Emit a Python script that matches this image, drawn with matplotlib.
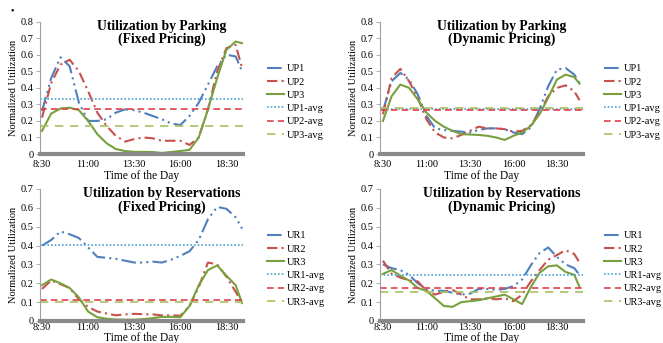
""" utilization charts, parking and reservations, fixed vs dynamic pricing """
import matplotlib
matplotlib.use("Agg")
import matplotlib.pyplot as plt

plt.rcParams['font.family'] = ['Liberation Serif', 'DejaVu Serif']

# hours of the day (left panels and right panels are sampled a little differently)
hours_fixed = [8.5, 9.0, 9.5, 10.0, 10.5, 11.0, 11.5, 12.0, 12.5, 13.0, 13.5, 14.0,
               14.5, 15.0, 15.5, 16.0, 16.5, 17.0, 17.5, 18.0, 18.5, 19.0, 19.35]
hours_dyn = [8.5, 9.0, 9.5, 10.0, 10.5, 11.0, 11.5, 12.0, 12.5, 13.0, 13.5, 14.0,
             14.5, 15.0, 15.5, 16.0, 16.5, 17.0, 17.5, 18.0, 18.5, 19.0, 19.5, 19.8]

# parking, fixed pricing
up1_fixed = [0.26, 0.46, 0.585, 0.53, 0.31, 0.20, 0.20, 0.21, 0.25, 0.27, 0.265, 0.25,
             0.23, 0.21, 0.185, 0.175, 0.23, 0.31, 0.42, 0.53, 0.60, 0.59, 0.50]
up2_fixed = [0.22, 0.43, 0.54, 0.57, 0.50, 0.38, 0.25, 0.17, 0.11, 0.075, 0.09, 0.10,
             0.095, 0.08, 0.08, 0.08, 0.055, 0.10, 0.27, 0.50, 0.64, 0.66, 0.52]
up3_fixed = [0.14, 0.245, 0.275, 0.28, 0.265, 0.20, 0.12, 0.065, 0.03, 0.018, 0.013, 0.013,
             0.012, 0.006, 0.012, 0.018, 0.025, 0.10, 0.27, 0.46, 0.63, 0.68, 0.67]
up_fixed_avg = [0.335, 0.27, 0.17]

# parking, dynamic pricing
up1_dyn = [0.26, 0.44, 0.49, 0.45, 0.36, 0.23, 0.155, 0.145, 0.14, 0.135, 0.13, 0.145,
           0.155, 0.155, 0.15, 0.13, 0.12, 0.16, 0.27, 0.41, 0.51, 0.52, 0.48, 0.43]
up2_dyn = [0.24, 0.46, 0.515, 0.44, 0.34, 0.21, 0.13, 0.10, 0.095, 0.115, 0.14, 0.165,
           0.155, 0.155, 0.15, 0.135, 0.14, 0.175, 0.25, 0.35, 0.40, 0.415, 0.38, 0.325]
up3_dyn = [0.20, 0.35, 0.42, 0.40, 0.33, 0.25, 0.20, 0.165, 0.14, 0.12, 0.118, 0.115,
           0.11, 0.10, 0.085, 0.11, 0.13, 0.17, 0.24, 0.34, 0.45, 0.48, 0.465, 0.425]
up_dyn_avg = [0.272, 0.265, 0.28]

# reservations, fixed pricing
ur1_fixed = [0.40, 0.43, 0.475, 0.46, 0.44, 0.39, 0.34, 0.335, 0.33, 0.32, 0.31, 0.31,
             0.315, 0.31, 0.325, 0.345, 0.37, 0.43, 0.54, 0.605, 0.595, 0.55, 0.49]
ur2_fixed = [0.17, 0.215, 0.195, 0.175, 0.115, 0.075, 0.05, 0.04, 0.03, 0.035, 0.038, 0.036,
             0.035, 0.03, 0.03, 0.028, 0.08, 0.18, 0.31, 0.30, 0.235, 0.155, 0.095]
ur3_fixed = [0.19, 0.22, 0.20, 0.175, 0.125, 0.05, 0.02, 0.012, 0.008, 0.007, 0.007, 0.01,
             0.015, 0.022, 0.022, 0.02, 0.08, 0.19, 0.27, 0.295, 0.24, 0.19, 0.095]
ur_fixed_avg = [0.405, 0.11, 0.10]

# reservations, dynamic pricing
ur1_dyn = [0.30, 0.28, 0.27, 0.245, 0.20, 0.17, 0.16, 0.16, 0.15, 0.14, 0.145, 0.17,
           0.17, 0.165, 0.17, 0.185, 0.22, 0.295, 0.36, 0.39, 0.34, 0.30, 0.28, 0.245]
ur2_dyn = [0.32, 0.25, 0.23, 0.215, 0.21, 0.16, 0.14, 0.155, 0.165, 0.14, 0.115, 0.115,
           0.12, 0.115, 0.12, 0.105, 0.14, 0.21, 0.27, 0.325, 0.35, 0.375, 0.355, 0.31]
ur3_dyn = [0.25, 0.27, 0.24, 0.215, 0.175, 0.16, 0.12, 0.08, 0.075, 0.10, 0.105, 0.11,
           0.12, 0.13, 0.14, 0.115, 0.09, 0.18, 0.255, 0.29, 0.295, 0.26, 0.245, 0.18]
ur_dyn_avg = [0.245, 0.175, 0.155]

tick_hours = [8.5, 11.0, 13.5, 16.0, 18.5]
tick_labels = ['8:30', '11:00', '13:30', '16:00', '18:30']

BLUE = '#4f7fbd'
RED = '#c8504d'
GREEN = '#78a03c'
AVG_BLUE = '#4aa3d0'
AVG_RED = '#e0404a'
AVG_GREEN = '#a8c060'

W, H = 663, 343
fig = plt.figure(figsize=(W / 100, H / 100), dpi=100)


def px_axes(x0, y_top, x1, y_bot):
    """ axes from pixel box """
    return fig.add_axes([x0 / W, 1 - y_bot / H, (x1 - x0) / W, (y_bot - y_top) / H])


def panel(ax, hours, series, avgs, names, title, ymax, xlim, leg_xy, label_pad, xlab_pad):
    styles = [(0, (7, 2, 1, 2, 1, 2)), (0, (5, 2, 1, 2)), '-']
    colors = [BLUE, RED, GREEN]
    for vals, st, col, name in zip(series, styles, colors, names):
        ax.plot(hours, vals, color=col, linestyle=st, lw=1.5, label=name)
    avg_styles = [(0, (1, 1.2)), (0, (4, 2.5)), (0, (5, 4))]
    avg_colors = [AVG_BLUE, AVG_RED, AVG_GREEN]
    for a, st, col, name in zip(avgs, avg_styles, avg_colors, names):
        ax.axhline(a, color=col, linestyle=st, lw=1.2, label=name + '-avg')
    ax.set_xlim(*xlim)
    ax.set_ylim(0, ymax)
    n = int(round(ymax * 10))
    ax.set_yticks([i / 10 for i in range(n + 1)])
    ax.set_yticklabels(['0'] + ['%.1f' % (i / 10) for i in range(1, n + 1)])
    ax.set_xticks(tick_hours)
    ax.set_xticklabels(tick_labels)
    for s in ('top', 'right'):
        ax.spines[s].set_visible(False)
    ax.spines['left'].set_color('#a0a0a0')
    ax.spines['left'].set_linewidth(0.8)
    ax.spines['bottom'].set_color('#8a8a8a')
    ax.spines['bottom'].set_linewidth(3)
    ax.tick_params(axis='y', length=3, width=0.6, color='#a0a0a0', labelsize=7.5, pad=1.5)
    ax.tick_params(axis='x', length=0, labelsize=7.5, pad=label_pad)
    ax.set_xlabel('Time of the Day', fontsize=8.3, labelpad=xlab_pad)
    ax.set_ylabel('Normalized Utilization', fontsize=7.5, labelpad=2)
    ax.text(0.6, 1.015, title, transform=ax.transAxes, ha='center', va='top',
            fontsize=9.8, fontweight='bold', linespacing=1.0)
    ax.legend(loc='upper left', bbox_to_anchor=(leg_xy[0] / W, 1 - leg_xy[1] / H),
              bbox_transform=fig.transFigure, frameon=False, fontsize=7.5,
              handlelength=1.6, handletextpad=0.25, labelspacing=0.38,
              borderpad=0, borderaxespad=0)


ax1 = px_axes(40, 21.7, 243, 154)
panel(ax1, hours_fixed, [up1_fixed, up2_fixed, up3_fixed], up_fixed_avg,
      ['UP1', 'UP2', 'UP3'], 'Utilization by Parking\n(Fixed Pricing)', 0.8,
      (8.39, 19.4), (267, 64), 4, 1)

ax2 = px_axes(380, 21.7, 583, 154)
panel(ax2, hours_dyn, [up1_dyn, up2_dyn, up3_dyn], up_dyn_avg,
      ['UP1', 'UP2', 'UP3'], 'Utilization by Parking\n(Dynamic Pricing)', 0.8,
      (8.33, 20.0), (604, 64), 4, 1)

ax3 = px_axes(40, 189, 243, 321)
panel(ax3, hours_fixed, [ur1_fixed, ur2_fixed, ur3_fixed], ur_fixed_avg,
      ['UR1', 'UR2', 'UR3'], 'Utilization by Reservations\n(Fixed Pricing)', 0.7,
      (8.39, 19.4), (267, 231), 1.5, 0)

ax4 = px_axes(380, 189, 583, 321)
panel(ax4, hours_dyn, [ur1_dyn, ur2_dyn, ur3_dyn], ur_dyn_avg,
      ['UR1', 'UR2', 'UR3'], 'Utilization by Reservations\n(Dynamic Pricing)', 0.7,
      (8.33, 20.0), (604, 231), 1.5, 0)

fig.text(12 / W, 1 - 11 / H, '\u2022', fontsize=7, ha='center', va='center')

fig.savefig('out.png', dpi=100)
